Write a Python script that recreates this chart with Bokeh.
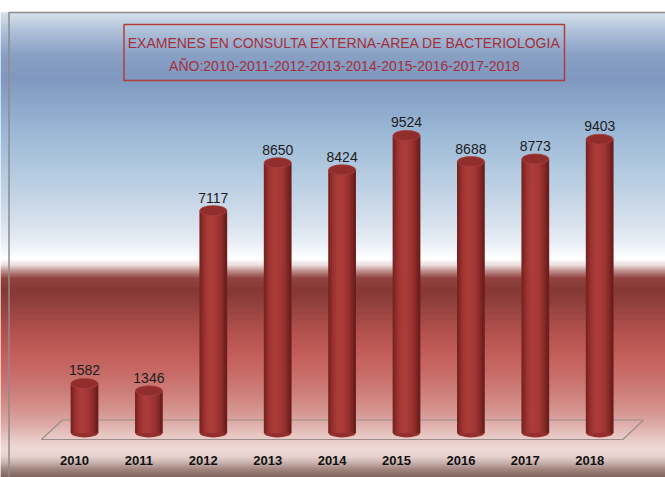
import numpy as np
from bokeh.plotting import figure
from bokeh.embed import file_html
from bokeh.resources import INLINE
from bokeh.core.properties import value
from bokeh.models import ColumnDataSource

# ---- data ----
years = ["2010", "2011", "2012", "2013", "2014", "2015", "2016", "2017", "2018"]
examenes = [1582, 1346, 7117, 8650, 8424, 9524, 8688, 8773, 9403]
title_line1 = "EXAMENES EN CONSULTA EXTERNA-AREA DE BACTERIOLOGIA"
title_line2 = "AÑO:2010-2011-2012-2013-2014-2015-2016-2017-2018"

# ---- layout (page pixels) ----
W, H = 665, 477
LEFT_PX, TOP_PX = 0, 0
BAR0_PX, STEP_PX = 84.0, 64.4
BASE_PX = 432.4
UPP = 32.02  # value units per pixel

x_start = -(BAR0_PX - LEFT_PX) / STEP_PX
x_end = x_start + W / STEP_PX
y_top = (BASE_PX - TOP_PX) * UPP
y_bot = y_top - H * UPP


def X(px):
    return x_start + (px - LEFT_PX) / STEP_PX


def Y(py):
    return (BASE_PX - py) * UPP


p = figure(width=W, height=H, x_range=(x_start, x_end), y_range=(y_bot, y_top),
           output_backend="svg", toolbar_location=None, min_border=0,
           border_fill_color="white", outline_line_color=None)
p.axis.visible = False
p.grid.visible = False

# ---- background gradient ----
stops = [
    (0, "#ffffff"), (11.5, "#ffffff"), (12.5, "#d3dee9"), (30, "#aabed7"),
    (55, "#8199c1"), (78, "#7891bb"), (100, "#819fc5"), (135, "#97b5d4"),
    (175, "#b0c8df"), (212, "#cbd9e8"), (240, "#e4ebf3"), (254, "#f8fafc"),
    (259, "#ffffff"), (265, "#e9d9d8"), (271, "#b98583"), (278, "#8a3633"),
    (290, "#7d2b28"), (310, "#923834"), (332, "#ad4642"), (352, "#bd524e"),
    (372, "#c4615d"), (392, "#ca7671"), (410, "#d28d88"), (425, "#dba6a1"),
    (438, "#e6c4c0"), (448, "#edd7d3"), (456, "#e6d0cb"), (463, "#c4aaa4"),
    (469, "#9a7e76"), (477, "#765851"),
]


def hex2rgb(h):
    return np.array([int(h[i:i + 2], 16) for i in (1, 3, 5)], dtype=float)


sy = np.array([s[0] for s in stops], dtype=float)
sc = np.array([hex2rgb(s[1]) for s in stops])
rows = np.arange(TOP_PX, TOP_PX + H, 1.0)
cols = []
for r in rows:
    c = [np.interp(r + 0.5, sy, sc[:, k]) for k in range(3)]
    cols.append("#%02x%02x%02x" % tuple(int(round(v)) for v in c))
bg = ColumnDataSource(dict(
    left=[x_start] * len(rows), right=[x_end] * len(rows),
    top=[Y(r - 0.3) for r in rows], bottom=[Y(r + 1.3) for r in rows], color=cols))
p.quad(left="left", right="right", top="top", bottom="bottom", fill_color="color",
       line_color=None, source=bg)

# chart border (left / top)
p.segment(x0=[X(8.5), X(8)], y0=[Y(12), Y(12)], x1=[X(8.5), X(665)], y1=[Y(477), Y(12)],
          line_color="#8c8c8c", line_width=1.5)

# ---- floor ----
n = len(years)
p.patch(x=[-0.34, n - 1 + 0.68, n - 1 + 0.36, -0.67],
        y=[Y(419.5), Y(419.5), Y(439), Y(439)],
        fill_color="white", fill_alpha=0.08, line_color="#9c8c8a", line_width=1.2)

# ---- cylinders ----
xs = np.arange(n, dtype=float)
bw = 27.0 / STEP_PX
shades = ["#7a2422", "#8a2a28", "#98312f", "#a23634", "#a83a38", "#aa3c3a",
          "#aa3c3a", "#a83a38", "#a43836", "#9e3533", "#963130", "#8c2c2a",
          "#7e2624", "#6e1f1d"]
p.ellipse(x=xs, y=[0] * n, width=bw, height=9, height_units="screen",
          fill_color="#93302e", line_color=None)
ns = len(shades)
sw = bw / ns
for k, c in enumerate(shades):
    off = -bw / 2 + sw * (k + 0.5)
    p.vbar(x=xs + off, width=sw * 1.4, top=examenes, bottom=0,
           fill_color=c, line_color=None)
p.ellipse(x=xs, y=examenes, width=bw, height=10, height_units="screen",
          fill_color="#912d2b", line_color="#a6403e", line_width=0.8)

# value labels
p.text(x=xs, y=examenes, text=[str(v) for v in examenes], text_align="center",
       text_baseline="bottom", y_offset=-8, text_font=value("Liberation Sans"),
       text_font_size="14px", text_color="#1c1c1c")

# year labels
p.text(x=xs - 0.155, y=[Y(460)] * n, text=years, text_align="center",
       text_baseline="middle", text_font=value("Liberation Sans"),
       text_font_size="13px", text_font_style="bold", text_color="#111111")

# ---- title box ----
p.quad(left=[X(123.5)], right=[X(564)], top=[Y(24)], bottom=[Y(80)],
       fill_color=None, line_color="#b23c3c", line_width=1.5)
p.text(x=[X(344), X(344)], y=[Y(42), Y(65)], text=[title_line1, title_line2],
       text_align="center", text_baseline="middle",
       text_font=value("Liberation Sans"), text_font_size="14px",
       text_color="#a2303a")

open("out.html", "w").write(file_html(p, INLINE))
